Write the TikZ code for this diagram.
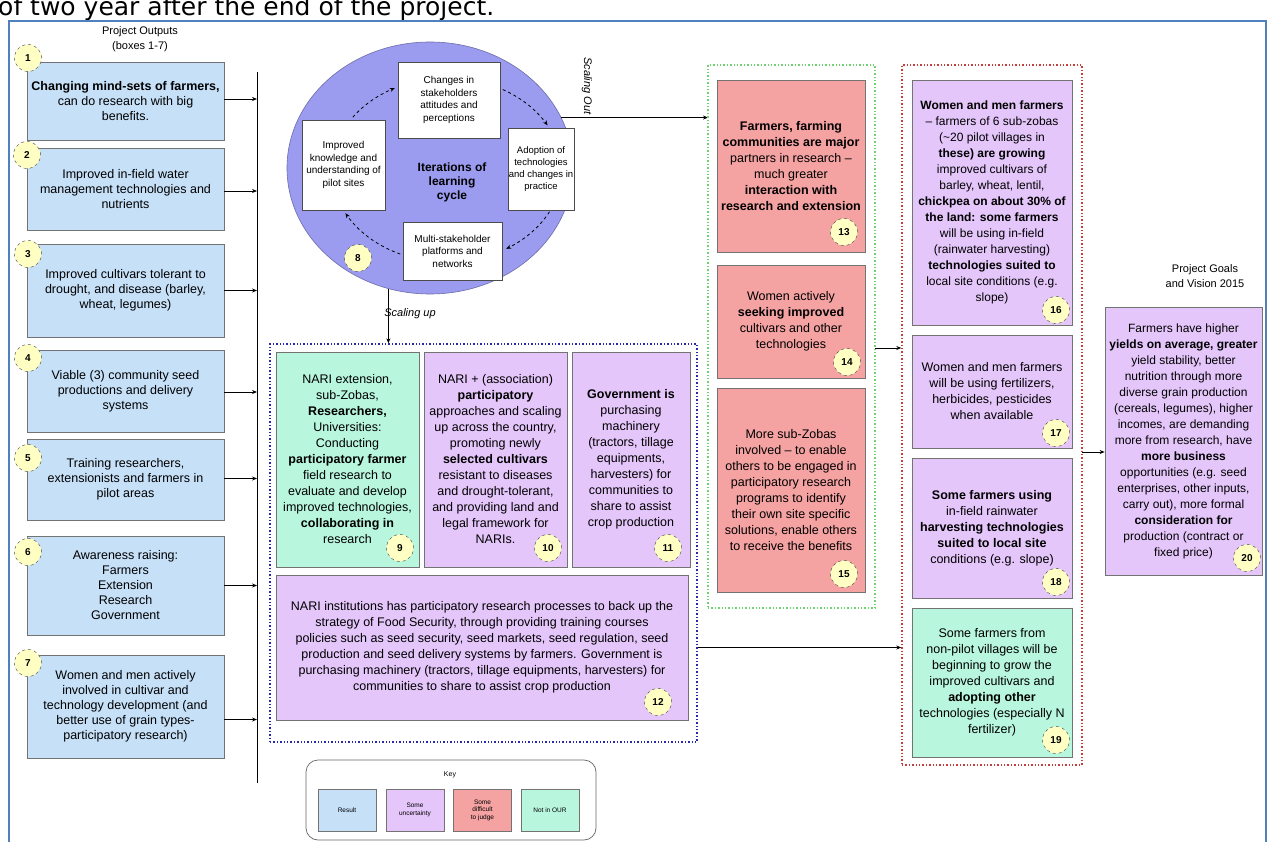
\documentclass[tikz,border=0pt]{standalone}
\usepackage{fontspec}
\setmainfont{Liberation Sans}
\newfontfamily\topfont{DejaVu Sans}
\usetikzlibrary{arrows.meta,shapes.geometric}
\definecolor{cblue}{RGB}{198,224,248}
\definecolor{cpurp}{RGB}{229,198,250}
\definecolor{cred}{RGB}{245,162,162}
\definecolor{cgrn}{RGB}{184,246,222}
\definecolor{cell}{RGB}{155,155,240}
\definecolor{cyel}{RGB}{255,255,196}
\definecolor{cframe}{RGB}{79,129,189}
\definecolor{cdotb}{RGB}{40,40,170}
\definecolor{cdotg}{RGB}{110,210,110}
\definecolor{cdotr}{RGB}{200,60,60}
\tikzset{
 bx/.style={draw=black!55, line width=0.7pt, align=center, inner sep=2pt, font=\fontsize{12.5}{16}\selectfont},
 ob/.style={bx, fill=cblue, minimum width=197pt, font=\fontsize{12.5}{15}\selectfont},
 pb/.style={bx, fill=cpurp},
 rb/.style={bx, fill=cred},
 gb/.style={bx, fill=cgrn},
 num/.style={circle, draw=black!75, dashed, fill=cyel, minimum size=27pt, inner sep=0pt, font=\bfseries\fontsize{10}{12}\selectfont},
 cbx/.style={draw=black!70, fill=white, align=center, inner sep=1pt, font=\fontsize{10}{12.5}\selectfont},
 cont/.style={dotted, line width=1.4pt, inner sep=0pt},
 arr/.style={-{Stealth[length=5pt,width=4pt]}, line width=0.8pt},
 lbl/.style={align=center, font=\fontsize{11}{15}\selectfont},
 cyc/.style={dashed, line width=0.8pt, -{Stealth[length=5pt,width=4pt]}},
 keyb/.style={bx, minimum width=58pt, minimum height=42pt, font=\fontsize{6.5}{7.5}\selectfont},
}
\begin{document}
\begin{tikzpicture}[x=1pt,y=-1pt]
\useasboundingbox (0,0) rectangle (1275,842);
% top cut text and frame
\node[anchor=base west, inner sep=0pt, font=\topfont\fontsize{25}{28}\selectfont] (toptxt) at (-2,16) {of two year after the end of the project.};
\draw[cframe, line width=1.6pt] (9,850) -- (9,21) -- (1266,21) -- (1266,850);

% titles
\node[lbl] (ttlout) at (140,39) {Project Outputs\\(boxes 1-7)};
\node[lbl] (ttlgoal) at (1205,276) {Project Goals\\and Vision 2015};

% left output boxes
\node[ob, minimum height=78pt] (b1) at (125.5,101) {\textbf{Changing mind-sets of farmers,}\\can do research with big\\benefits.};
\node[ob, minimum height=82pt] (b2) at (125.5,189) {Improved in-field water\\management technologies and\\nutrients};
\node[ob, minimum height=93pt] (b3) at (125.5,290.5) {Improved cultivars tolerant to\\drought, and disease (barley,\\wheat, legumes)};
\node[ob, minimum height=82pt] (b4) at (125.5,391) {Viable (3) community seed\\productions and delivery\\systems};
\node[ob, minimum height=81pt] (b5) at (125.5,479.5) {Training researchers,\\extensionists and farmers in\\pilot areas};
\node[ob, minimum height=99pt] (b6) at (125.5,585.5) {Awareness raising:\\Farmers\\Extension\\Research\\Government};
\node[ob, minimum height=103pt] (b7) at (125.5,706.5) {Women and men actively\\involved in cultivar and\\technology development (and\\better use of grain types-\\participatory research)};
\node[num] (n1) at (28,58) {1};
\node[num] (n2) at (27,155) {2};
\node[num] (n3) at (28,254) {3};
\node[num] (n4) at (28,358) {4};
\node[num] (n5) at (28,458) {5};
\node[num] (n6) at (28,552) {6};
\node[num] (n7) at (28,663) {7};

% bar
\coordinate (bartop) at (257,72);
\coordinate (barbot) at (257,783);
\draw[line width=0.8pt] (bartop) -- (barbot);
\foreach \b/\s in {b1/2,b2/-2,b3/0,b4/-1,b5/1,b6/0,b7/-13}{
  \draw[arr] ([yshift=\s pt]\b.east) -- ([yshift=\s pt]\b.east -| bartop);
}

% learning cycle
\node[ellipse, fill=cell, draw=cell!70!black, line width=0.6pt, minimum width=286pt, minimum height=252pt] (cyc) at (430,168) {};
\draw[cyc] plot[domain=215:243, samples=20] ({447+115*cos(\x)},{170+92*sin(\x)});
\draw[cyc] plot[domain=299:331, samples=20] ({447+115*cos(\x)},{170+92*sin(\x)});
\draw[cyc] plot[domain=27:59, samples=20] ({447+115*cos(\x)},{170+92*sin(\x)});
\draw[cyc] plot[domain=114:152, samples=20] ({447+115*cos(\x)},{170+92*sin(\x)});
\node[cbx, minimum width=102pt, minimum height=76pt] (ct) at (449,100) {Changes in\\stakeholders\\attitudes and\\perceptions};
\node[cbx, minimum width=83pt, minimum height=90pt] (cl) at (343.5,165) {Improved\\knowledge and\\understanding of\\pilot sites};
\node[cbx, minimum width=64pt, minimum height=82pt, font=\fontsize{9.5}{12}\selectfont] (cr) at (541,169) {Adoption of\\technologies\\and changes in\\practice};
\node[cbx, minimum width=99pt, minimum height=58pt] (cb) at (452.5,251) {Multi-stakeholder\\platforms and\\networks};
\node[align=center, font=\bfseries\fontsize{12}{14}\selectfont] (ctext) at (452,182) {Iterations of\\learning\\cycle};
\node[num] (n8) at (358,258) {8};

% blue container
\node[cont, draw=cdotb, minimum width=427pt, minimum height=398pt] (blu) at (483.5,543) {};
\node[gb, minimum width=143pt, minimum height=215pt] (b9) at (347.5,459.5) {NARI extension,\\sub-Zobas,\\\textbf{Researchers,}\\Universities:\\Conducting\\\textbf{participatory farmer}\\field research to\\evaluate and develop\\improved technologies,\\\textbf{collaborating in}\\research};
\node[pb, minimum width=143pt, minimum height=215pt] (b10) at (495.5,459.5) {NARI + (association)\\\textbf{participatory}\\approaches and scaling\\up across the country,\\promoting newly\\\textbf{selected cultivars}\\resistant to diseases\\and drought-tolerant,\\and providing land and\\legal framework for\\NARIs.};
\node[pb, minimum width=118pt, minimum height=215pt] (b11) at (631,459.5) {\textbf{Government is}\\purchasing\\machinery\\(tractors, tillage\\equipments,\\harvesters) for\\communities to\\share to assist\\crop production};
\node[pb, minimum width=412pt, minimum height=145pt] (b12) at (482,647.5) {NARI institutions has participatory research processes to back up the\\strategy of Food Security, through providing training courses\\policies such as seed security, seed markets, seed regulation, seed\\production and seed delivery systems by farmers. Government is\\purchasing machinery (tractors, tillage equipments, harvesters) for\\communities to share to assist crop production};
\node[num] (n9) at (400,548) {9};
\node[num] (n10) at (548,548) {10};
\node[num] (n11) at (668,548) {11};
\node[num] (n12) at (658,702) {12};

\draw[arr] (cyc.251) -- (cyc.251 |- blu.north);
\node[font=\itshape\fontsize{11}{13}\selectfont] (sup) at (410,314) {Scaling up};
\coordinate (gw) at (708,118);
\draw[arr] (cyc.21) -- (cyc.21 -| gw);
\node[rotate=-90, font=\itshape\fontsize{11}{13}\selectfont] (sout) at (587,86) {Scaling Out};

% green container
\node[cont, draw=cdotg, minimum width=167pt, minimum height=543pt] (grn) at (791.5,336.5) {};
\node[rb, minimum width=148pt, minimum height=172pt] (b13) at (791,166) {\textbf{Farmers, farming}\\\textbf{communities are major}\\partners in research --\\much greater\\\textbf{interaction with}\\\textbf{research and extension}};
\node[rb, minimum width=148pt, minimum height=113pt] (b14) at (791,321.5) {Women actively\\\textbf{seeking improved}\\cultivars and other\\technologies};
\node[rb, minimum width=148pt, minimum height=204pt] (b15) at (791,490) {More sub-Zobas\\involved -- to enable\\others to be engaged in\\participatory research\\programs to identify\\their own site specific\\solutions, enable others\\to receive the benefits};
\node[num] (n13) at (844,232) {13};
\node[num] (n14) at (847,362) {14};
\node[num] (n15) at (844,574) {15};

% red container
\node[cont, draw=cdotr, minimum width=180pt, minimum height=700pt] (red) at (992,415) {};
\node[pb, minimum width=160pt, minimum height=245pt, font=\fontsize{12}{16}\selectfont] (b16) at (992,202.5) {\textbf{Women and men farmers}\\-- farmers of 6 sub-zobas\\(\textasciitilde 20 pilot villages in\\\textbf{these) are growing}\\improved cultivars of\\barley, wheat, lentil,\\\textbf{chickpea on about 30\% of}\\\textbf{the land: some farmers}\\will be using in-field\\(rainwater harvesting)\\\textbf{technologies suited to}\\local site conditions (e.g.\\slope)};
\node[pb, minimum width=160pt, minimum height=113pt] (b17) at (992,391.5) {Women and men farmers\\will be using fertilizers,\\herbicides, pesticides\\when available};
\node[pb, minimum width=160pt, minimum height=140pt] (b18) at (992,528) {\textbf{Some farmers using}\\in-field rainwater\\\textbf{harvesting technologies}\\\textbf{suited to local site}\\conditions (e.g. slope)};
\node[gb, minimum width=160pt, minimum height=149pt] (b19) at (992,682.5) {Some farmers from\\non-pilot villages will be\\beginning to grow the\\improved cultivars and\\\textbf{adopting other}\\technologies (especially N\\fertilizer)};
\node[num] (n16) at (1056,310) {16};
\node[num] (n17) at (1056,433) {17};
\node[num] (n18) at (1056,582) {18};
\node[num] (n19) at (1056,740) {19};

% goal
\node[pb, minimum width=157pt, minimum height=268pt, font=\fontsize{12}{16}\selectfont] (goal) at (1183.5,441) {Farmers have higher\\\textbf{yields on average, greater}\\yield stability, better\\nutrition through more\\diverse grain production\\(cereals, legumes), higher\\incomes, are demanding\\more from research, have\\\textbf{more business}\\opportunities (e.g. seed\\enterprises, other inputs,\\carry out), more formal\\\textbf{consideration for}\\production (contract or\\fixed price)};
\node[num] (n20) at (1247,558) {20};

% inter-container arrows
\draw[arr] (blu.east |- b12) -- (red.west |- b12);
\coordinate (ga) at (875,348);
\draw[arr] (ga) -- (ga -| red.west);
\coordinate (ra) at (1082,452);
\draw[arr] (ra) -- (ra -| goal.west);

% key
\node[draw=black!60, line width=0.7pt, rounded corners=12pt, minimum width=290pt, minimum height=80pt] (key) at (451,800) {};
\node[font=\fontsize{7}{8}\selectfont] (keyt) at (450,775) {Key};
\node[keyb, fill=cblue] (k1) at (347,810) {Result};
\node[keyb, fill=cpurp] (k2) at (415,810) {Some\\uncertainty};
\node[keyb, fill=cred] (k3) at (482.5,810) {Some\\difficult\\to judge};
\node[keyb, fill=cgrn] (k4) at (550,810) {Not in OUR};
\end{tikzpicture}
\end{document}
